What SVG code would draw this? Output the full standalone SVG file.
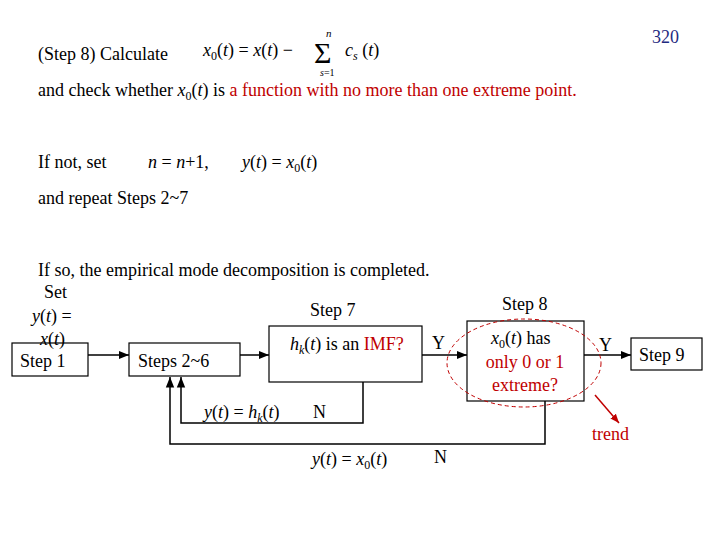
<svg xmlns="http://www.w3.org/2000/svg" width="720" height="540" viewBox="0 0 720 540">
<style>
text{font-family:"Liberation Serif","Times New Roman",serif;font-size:18px;fill:#000}
.r{fill:#c00000}
.b{fill:#fff;stroke:#000;stroke-width:1.2}
.l{fill:none;stroke:#000;stroke-width:1.5}
.i{font-style:italic}
</style>
<defs><marker id="a" viewBox="0 0 10 10" refX="10" refY="5" markerWidth="7" markerHeight="7" orient="auto"><path d="M0,1L10,5L0,9z" fill="#000"/></marker>
<marker id="ar" viewBox="0 0 10 10" refX="10" refY="5" markerWidth="6" markerHeight="6" orient="auto"><path d="M0,1L10,5L0,9z" fill="#c00000"/></marker></defs>
<text x="652" y="43" style="fill:#1f2a80">320</text>
<text x="38" y="60">(Step 8)  Calculate</text>
<text x="203" y="56"><tspan class="i">x</tspan><tspan font-size="12" dy="4">0</tspan><tspan dy="-4">(</tspan><tspan class="i">t</tspan>) = <tspan class="i">x</tspan>(<tspan class="i">t</tspan>) −</text>
<text x="314" y="63" style="font-size:30px">Σ</text><text x="326" y="37" style="font-size:11px" class="i">n</text><text x="320" y="76" style="font-size:10px"><tspan class="i">s</tspan>=1</text>
<text x="345" y="56"><tspan class="i">c</tspan><tspan font-size="12" class="i" dy="4">s</tspan><tspan dy="-4"> (</tspan><tspan class="i">t</tspan>)</text>
<text x="38" y="96">and check whether <tspan class="i">x</tspan><tspan font-size="12" dy="4">0</tspan><tspan dy="-4">(</tspan><tspan class="i">t</tspan>) is <tspan class="r">a function with no more than one extreme point.</tspan></text>
<text x="38" y="168">If not, set</text>
<text x="148" y="168"><tspan class="i">n</tspan> = <tspan class="i">n</tspan>+1,</text>
<text x="242" y="168"><tspan class="i">y</tspan>(<tspan class="i">t</tspan>) = <tspan class="i">x</tspan><tspan font-size="12" dy="4">0</tspan><tspan dy="-4">(</tspan><tspan class="i">t</tspan>)</text>
<text x="38" y="204">and repeat Steps 2~7</text>
<text x="38" y="276">If so, the empirical mode decomposition is completed.</text>
<g id="connectors">
<path class="l" d="M88,355H129" marker-end="url(#a)"/>
<path class="l" d="M240,355H269" marker-end="url(#a)"/>
<path class="l" d="M422,355H467" marker-end="url(#a)"/>
<path class="l" d="M584,355H631" marker-end="url(#a)"/>
<path class="l" d="M363,382V423H181V377" marker-end="url(#a)"/>
<path class="l" d="M545,401V444H170V377" marker-end="url(#a)"/>
<path d="M595,395L619,423" stroke="#c00000" stroke-width="1.5" fill="none" marker-end="url(#ar)"/>
</g>
<g id="step1"><rect class="b" x="12" y="343" width="76" height="33"/><text x="20" y="367">Step 1</text>
<text x="44" y="298">Set</text><text x="32" y="322"><tspan class="i">y</tspan>(<tspan class="i">t</tspan>) =</text><text x="40" y="345"><tspan class="i">x</tspan>(<tspan class="i">t</tspan>)</text></g>
<g id="steps26"><rect class="b" x="129" y="343" width="111" height="33"/><text x="138" y="367">Steps 2~6</text></g>
<g id="step7"><rect class="b" x="269" y="326" width="153" height="56"/><text x="310" y="316">Step 7</text>
<text x="290" y="350"><tspan class="i">h</tspan><tspan font-size="12" class="i" dy="4">k</tspan><tspan dy="-4">(</tspan><tspan class="i">t</tspan>) is an <tspan class="r">IMF?</tspan></text></g>
<g id="step8"><rect class="b" x="467" y="321" width="117" height="80"/><text x="502" y="310">Step 8</text>
<text x="491" y="344"><tspan class="i">x</tspan><tspan font-size="12" dy="4">0</tspan><tspan dy="-4">(</tspan><tspan class="i">t</tspan>) has</text>
<text x="525" y="368" text-anchor="middle" class="r">only 0 or 1</text><text x="525" y="391" text-anchor="middle" class="r">extreme?</text>
<ellipse cx="524" cy="363" rx="77" ry="44" fill="none" stroke="#c00000" stroke-dasharray="4,3"/></g>
<g id="step9"><rect class="b" x="631" y="338" width="71" height="32"/><text x="639" y="361">Step 9</text></g>
<text x="432" y="349">Y</text><text x="599" y="351">Y</text>
<text x="204" y="418"><tspan class="i">y</tspan>(<tspan class="i">t</tspan>) = <tspan class="i">h</tspan><tspan font-size="12" class="i" dy="4">k</tspan><tspan dy="-4">(</tspan><tspan class="i">t</tspan>)</text>
<text x="313" y="418">N</text>
<text x="312" y="465"><tspan class="i">y</tspan>(<tspan class="i">t</tspan>) = <tspan class="i">x</tspan><tspan font-size="12" dy="4">0</tspan><tspan dy="-4">(</tspan><tspan class="i">t</tspan>)</text>
<text x="434" y="463">N</text>
<text x="592" y="440" class="r">trend</text>
</svg>
